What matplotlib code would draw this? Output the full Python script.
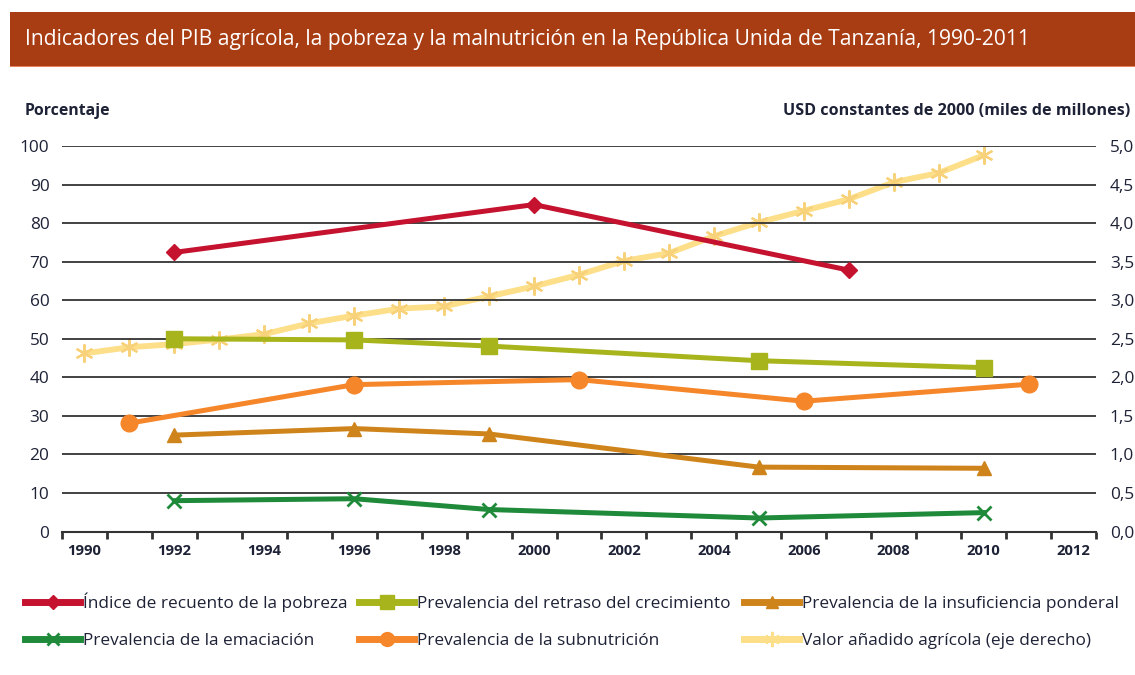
import matplotlib
matplotlib.use("Agg")
import matplotlib.pyplot as plt
from matplotlib.lines import Line2D
from matplotlib.patches import Rectangle
from matplotlib.ticker import FixedLocator, FuncFormatter

plt.rcParams['font.family'] = ['Open Sans', 'DejaVu Sans']

# ---------------- data ----------------
title = "Indicadores del PIB agrícola, la pobreza y la malnutrición en la República Unida de Tanzanía, 1990-2011"
left_label = "Porcentaje"
right_label = "USD constantes de 2000 (miles de millones)"

years_pov = [1992, 2000, 2007]
pov = [72.4, 84.8, 67.8]

years_stunt = [1992, 1996, 1999, 2005, 2010]
stunt = [50.0, 49.7, 48.1, 44.3, 42.5]

years_under = [1992, 1996, 1999, 2005, 2010]
underw = [25.0, 26.7, 25.3, 16.7, 16.4]

years_wast = [1992, 1996, 1999, 2005, 2010]
wast = [8.0, 8.5, 5.7, 3.5, 4.9]

years_nour = [1991, 1996, 2001, 2006, 2011]
nour = [28.1, 38.1, 39.4, 33.8, 38.2]

years_agri = list(range(1990, 2011))
agri = [2.31, 2.39, 2.43, 2.49, 2.56, 2.70, 2.80, 2.89, 2.92, 3.05, 3.18,
        3.33, 3.51, 3.61, 3.83, 4.01, 4.16, 4.31, 4.53, 4.65, 4.88]

labels = ["Índice de recuento de la pobreza",
          "Prevalencia del retraso del crecimiento",
          "Prevalencia de la insuficiencia ponderal",
          "Prevalencia de la emaciación",
          "Prevalencia de la subnutrición",
          "Valor añadido agrícola (eje derecho)"]

xtick_years = list(range(1990, 2013, 2))
left_ticks = list(range(0, 101, 10))
right_ticks = [0, 0.5, 1.0, 1.5, 2.0, 2.5, 3.0, 3.5, 4.0, 4.5, 5.0]

# ---------------- styles ----------------
C_POV = "#C4122F"
C_STUNT = "#A8B41C"
C_UNDER = "#CF841B"
C_WAST = "#1E8A3A"
C_NOUR = "#F5862A"
C_AGRI = "#FCDF88"
TXT = "#1E2236"
GRID = "#333333"

W, H = 1135, 675
fig = plt.figure(figsize=(W / 100, H / 100), dpi=100)

# title bar
fig.patches.append(Rectangle((10 / W, 1 - 66 / H), 1 - 10 / W, 54 / H,
                             transform=fig.transFigure, facecolor="#A83C12",
                             edgecolor="none", zorder=0))
fig.patches.append(Rectangle((10 / W, 1 - 67 / H), 1 - 10 / W, 1.2 / H,
                             transform=fig.transFigure, facecolor="#E8835A",
                             edgecolor="none", zorder=0))
fig.text(25 / W, 1 - 40 / H, title, color="white", fontsize=15.1,
         va="center", ha="left")

ax = fig.add_axes([62 / W, 1 - 531.5 / H, (1096 - 62) / W, (531.5 - 146) / H])
ax2 = ax.twinx()

ax.set_xlim(1989.5, 2012.5)
ax.set_ylim(0, 100)
ax2.set_ylim(0, 5)

lw = 3.6
ax.plot(years_pov, pov, color=C_POV, lw=lw, marker="D", ms=8, mec=C_POV, zorder=5)
ax.plot(years_stunt, stunt, color=C_STUNT, lw=lw, marker="s", ms=12, mec=C_STUNT, zorder=4)
ax.plot(years_under, underw, color=C_UNDER, lw=lw, marker="^", ms=10, mec=C_UNDER, zorder=4)
ax.plot(years_wast, wast, color=C_WAST, lw=lw, marker="x", ms=10, mew=2, mec=C_WAST, zorder=4)
ax.plot(years_nour, nour, color=C_NOUR, lw=lw, marker="o", ms=12, mec=C_NOUR, zorder=4)
ax2.plot(years_agri, agri, color=C_AGRI, lw=lw + 0.6, marker=(6, 2, 0), ms=13, mew=1.6,
         mec="#F8D27A", zorder=3)

# grid and spines
for y in left_ticks[1:]:
    ax.axhline(y, color=GRID, lw=1.3, zorder=1)
for a in (ax, ax2):
    for s in ("left", "right", "top"):
        a.spines[s].set_visible(False)
ax.spines["bottom"].set_color("#333333")
ax.spines["bottom"].set_linewidth(1.5)
ax2.spines["bottom"].set_visible(False)

ax.xaxis.set_major_locator(FixedLocator(xtick_years))
ax.xaxis.set_minor_locator(FixedLocator([1989.5 + i for i in range(24)]))
ax.tick_params(axis="x", which="major", length=0, pad=9, labelsize=10.6,
               labelcolor=TXT)
ax.tick_params(axis="x", which="minor", length=5, width=2, color="#333333",
               direction="out")
for t in ax.get_xticklabels():
    t.set_fontweight("bold")

ax.yaxis.set_major_locator(FixedLocator(left_ticks))
ax.tick_params(axis="y", length=0, pad=9, labelsize=12.4, labelcolor=TXT)
ax2.yaxis.set_major_locator(FixedLocator(right_ticks))
ax2.yaxis.set_major_formatter(FuncFormatter(lambda v, p: f"{v:.1f}".replace(".", ",")))
ax2.tick_params(axis="y", length=0, pad=10, labelsize=12.4, labelcolor=TXT)
ax.set_zorder(ax2.get_zorder() + 1)
ax.patch.set_visible(False)

fig.text(25 / W, 1 - 111 / H, left_label, fontsize=11.4, fontweight="bold",
         color=TXT, va="center", ha="left")
fig.text(1130 / W, 1 - 111 / H, right_label, fontsize=11.6, fontweight="bold",
         color=TXT, va="center", ha="right")

# legend
def handle(color, marker, ms, mew=1.0):
    return Line2D([], [], color=color, lw=5, marker=marker, ms=ms, mew=mew, mec=color)

hs = [handle(C_POV, "D", 7), handle(C_STUNT, "s", 10), handle(C_UNDER, "^", 9),
      handle(C_WAST, "x", 9, 2), handle(C_NOUR, "o", 10), handle(C_AGRI, (6, 2, 0), 11, 1.6)]

xs = [25, 359, 744, 25, 359, 744]
ys = [602, 604, 604, 641, 641, 641]
for h, lab, x0, y0 in zip(hs, labels, xs, ys):
    fig.legend([h], [lab], loc="center left", bbox_to_anchor=(x0 / W, 1 - y0 / H),
               frameon=False, fontsize=12.4, handlelength=3.2, handletextpad=0.15,
               borderpad=0, borderaxespad=0, labelcolor=TXT)

fig.savefig("out.png", dpi=100)
